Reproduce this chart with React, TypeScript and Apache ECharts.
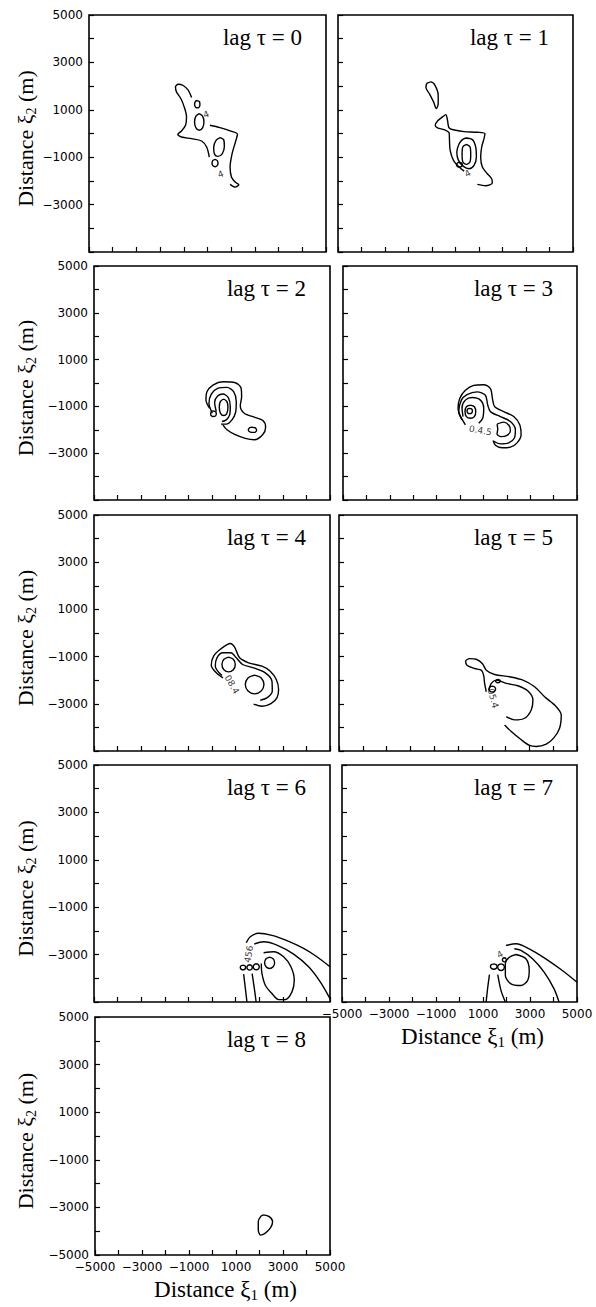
import React, { useEffect, useRef } from "react";
import * as echarts from "echarts";

// ---------- data (metres) ----------
const tickLabelValues = [-5000, -3000, -1000, 1000, 3000, 5000];
const lagLabels = ["lag τ = 0", "lag τ = 1", "lag τ = 2", "lag τ = 3", "lag τ = 4", "lag τ = 5", "lag τ = 6", "lag τ = 7", "lag τ = 8"];

const lag0 = [
  [[-673, 1517], [-815, 1827], [-1027, 2025], [-1239, 2081], [-1352, 1968], [-1309, 1757], [-1126, 1475], [-984, 1123], [-885, 700], [-927, 347], [-1097, 107], [-1253, -34], [-1097, -147], [-673, -217], [-249, -316], [-37, -570], [76, -993]],
  [[105, 347], [529, 248], [953, 107], [1264, -34], [1179, -358], [1038, -852], [953, -1416], [1010, -1839], [1165, -2050], [1321, -2163], [1165, -2262], [953, -2149]],
  [[-433, 1390], [-334, 1333], [-320, 1207], [-391, 1080], [-504, 1108], [-546, 1235], [-504, 1362], [-433, 1390]],
  [[-348, 840], [-208, 737], [-150, 488], [-208, 239], [-348, 136], [-488, 239], [-546, 488], [-488, 737], [-348, 840]],
  [[540, -175], [680, -260], [712, -540], [620, -860], [430, -965], [300, -880], [260, -600], [360, -290], [540, -175]],
  [[317, -1091], [407, -1136], [444, -1246], [407, -1356], [317, -1401], [227, -1356], [190, -1246], [227, -1136], [317, -1091]],
];

const lag1 = [
  [[-1230, 2110], [-1046, 2180], [-877, 2039], [-736, 1616], [-736, 1264], [-820, 1052], [-933, 1334], [-1117, 1687], [-1258, 1940], [-1230, 2110]],
  [[930, -2149], [1283, -2205], [1566, -2092], [1538, -1909], [1354, -1698], [1142, -1416], [1072, -993], [1114, -570], [1213, -217], [1255, -5], [930, 51], [366, 79], [13, 136], [-270, 234], [-340, 559], [-411, 798], [-552, 700], [-764, 530], [-863, 347], [-764, 234], [-482, 164], [-270, 23], [-256, -288], [-227, -711], [-86, -1134], [154, -1416], [366, -1585]],
  [[436, -189], [719, -259], [860, -570], [888, -993], [789, -1345], [577, -1486], [337, -1387], [126, -1134], [55, -781], [154, -429], [295, -259], [436, -189]],
  [[464, -457], [620, -570], [648, -880], [620, -1190], [464, -1303], [308, -1190], [280, -880], [308, -570], [464, -457]],
  [[168, -1218], [258, -1247], [295, -1317], [258, -1387], [168, -1416], [78, -1387], [41, -1317], [78, -1247], [168, -1218]],
];

const lag2 = [
  [[-100, -1080], [-256, -727], [-213, -373], [41, -90], [464, 51], [987, 9], [1227, -204], [1255, -585], [1199, -967], [1368, -1292], [1792, -1462], [2159, -1603], [2272, -1886], [2145, -2211], [1792, -2424], [1410, -2367], [987, -2211], [634, -1999], [464, -1787]],
  [[13, -1292], [-129, -868], [-30, -472], [239, -232], [634, -189], [916, -373], [1029, -797], [1001, -1250], [846, -1575], [606, -1759], [380, -1759]],
  [[182, -1222], [111, -826], [239, -557], [464, -472], [690, -628], [775, -1010], [747, -1363], [606, -1575], [422, -1646]],
  [[493, -684], [634, -797], [676, -1052], [620, -1321], [493, -1391], [366, -1306], [309, -1052], [351, -797], [493, -684]],
  [[1693, -1886], [1848, -1929], [1891, -2028], [1792, -2112], [1622, -2098], [1538, -2013], [1594, -1914], [1693, -1886]],
  [[69, -1193], [182, -1278], [154, -1405], [27, -1434], [-58, -1335], [-30, -1222], [69, -1193]],
];

const lag3 = [
  [[230, -1786], [-84, -1084], [-12, -662], [230, -311], [586, -100], [1014, -72], [1299, -241], [1398, -732], [1484, -1013], [1869, -1224], [2296, -1435], [2553, -1786], [2610, -2208], [2439, -2559], [2154, -2742], [1797, -2770], [1512, -2657], [1413, -2460]],
  [[87, -1575], [-55, -1224], [59, -732], [301, -494], [729, -381], [1085, -522], [1185, -943], [1299, -1224], [1726, -1435], [2154, -1646], [2367, -1997], [2325, -2348], [2082, -2559], [1726, -2601], [1441, -2489]],
  [[130, -1435], [87, -1056], [230, -732], [515, -620], [871, -732], [1014, -1084], [971, -1505], [800, -1716]],
  [[444, -943], [615, -1013], [672, -1224], [615, -1435], [444, -1505], [273, -1435], [216, -1224], [273, -1013], [444, -943]],
  [[415, -1084], [501, -1112], [529, -1196], [501, -1280], [415, -1308], [330, -1280], [301, -1196], [330, -1112], [415, -1084]],
  [[1584, -1758], [1869, -1674], [2097, -1815], [2154, -2039], [2011, -2236], [1755, -2292], [1584, -2180], [1612, -1969], [1584, -1758]],
];

const lag4 = [
  [[464, -1900], [182, -1688], [-30, -1363], [69, -981], [380, -670], [775, -444], [959, -599], [1170, -1052], [1552, -1264], [2116, -1405], [2469, -1618], [2724, -1971], [2822, -2395], [2752, -2749], [2498, -2989], [2116, -3102], [1763, -3017]],
  [[422, -1801], [140, -1405], [210, -1052], [464, -840], [803, -840], [1029, -1052], [1298, -1335], [1763, -1476], [2258, -1688], [2540, -2042], [2554, -2466], [2328, -2749], [2046, -2848]],
  [[704, -1024], [903, -1115], [986, -1335], [903, -1555], [704, -1646], [505, -1555], [422, -1335], [505, -1115], [704, -1024]],
  [[1806, -1788], [2085, -1904], [2201, -2183], [2085, -2462], [1806, -2578], [1527, -2462], [1411, -2183], [1527, -1904], [1806, -1788]],
];

const lag5 = [
  [[1188, -2489], [1118, -2137], [1076, -1786], [978, -1575], [698, -1505], [376, -1365], [320, -1196], [488, -1084], [768, -1112], [1020, -1294], [1188, -1575], [1538, -1758], [2168, -1856], [2728, -1997], [3218, -2278], [3638, -2699], [4128, -3121], [4338, -3472], [4268, -4034], [4016, -4456], [3708, -4709], [3288, -4807], [3008, -4765], [2658, -4526], [2238, -4175], [1958, -3894]],
  [[2028, -3542], [2378, -3683], [2798, -3613], [3078, -3261], [3148, -2840], [2938, -2461], [2518, -2236], [2028, -2137], [1608, -1997], [1398, -2137], [1300, -2418]],
  [[1678, -1969], [1747, -1990], [1776, -2039], [1747, -2088], [1678, -2109], [1609, -2088], [1580, -2039], [1609, -1990], [1678, -1969]],
  [[1440, -2250], [1539, -2287], [1580, -2376], [1539, -2465], [1440, -2502], [1341, -2465], [1300, -2376], [1341, -2287], [1440, -2250]],
];

const lag6 = [
  [[1453, -2498], [1622, -2244], [1975, -2102], [2540, -2187], [3175, -2413], [3881, -2738], [4446, -3091], [5000, -3514]],
  [[1792, -2554], [2187, -2455], [2752, -2597], [3458, -2978], [4093, -3514], [4587, -4150], [5000, -4856]],
  [[2187, -2921], [2611, -2879], [3034, -3091], [3345, -3514], [3486, -4079], [3387, -4573], [3105, -4898], [2822, -4898], [2540, -4644], [2258, -4291], [2116, -3797], [2088, -3373]],
  [[1340, -3825], [1410, -4400], [1481, -5000]],
  [[1700, -3800], [1790, -4400], [1870, -5000]],
  [[1312, -3444], [1392, -3473], [1425, -3543], [1392, -3613], [1312, -3642], [1232, -3613], [1199, -3543], [1232, -3473], [1312, -3444]],
  [[1594, -3430], [1674, -3463], [1707, -3543], [1674, -3623], [1594, -3656], [1514, -3623], [1481, -3543], [1514, -3463], [1594, -3430]],
  [[1876, -3387], [1966, -3424], [2003, -3514], [1966, -3604], [1876, -3641], [1786, -3604], [1749, -3514], [1786, -3424], [1876, -3387]],
  [[2441, -3105], [2591, -3175], [2653, -3345], [2591, -3515], [2441, -3585], [2291, -3515], [2229, -3345], [2291, -3175], [2441, -3105]],
];

const lag7 = [
  [[1980, -2614], [2403, -2544], [2967, -2755], [3672, -3178], [4377, -3672], [5000, -4165]],
  [[2332, -2755], [2614, -2826], [3108, -3178], [3601, -3742], [4024, -4447], [4236, -5000]],
  [[2403, -2995], [2826, -3178], [2967, -3672], [2896, -4095], [2614, -4306], [2191, -4236], [1951, -3883], [1951, -3390], [2121, -3108], [2403, -2995]],
  [[1275, -3841], [1200, -4400], [1134, -5000]],
  [[1627, -3841], [1768, -4518], [1951, -5000]],
  [[1458, -3389], [1558, -3422], [1599, -3502], [1558, -3582], [1458, -3615], [1358, -3582], [1317, -3502], [1358, -3422], [1458, -3389]],
  [[1768, -3390], [1868, -3431], [1909, -3531], [1868, -3631], [1768, -3672], [1668, -3631], [1627, -3531], [1668, -3431], [1768, -3390]],
  [[1909, -3135], [1969, -3160], [1994, -3220], [1969, -3280], [1909, -3305], [1849, -3280], [1824, -3220], [1849, -3160], [1909, -3135]],
];

const lag8 = [
  [[2161, -3314], [2416, -3385], [2558, -3597], [2473, -3852], [2232, -4092], [2047, -4163], [1948, -3951], [1948, -3597], [2047, -3385], [2161, -3314]],
];

const panelsData = [lag0, lag1, lag2, lag3, lag4, lag5, lag6, lag7, lag8];

// contour level labels: [panel, x, y, text, rotation]
const contourLabels: [number, number, number, string, number][] = [
  [0, -60, 800, "4", 20],
  [0, 560, -1720, "4", 20],
  [1, 520, -1690, "4", 30],
  [3, 870, -2030, "0.4.5", -10],
  [4, 846, -2183, "08.4", -60],
  [5, 1470, -2770, "05.4", -75],
  [6, 1560, -2980, "456", 80],
  [7, 1726, -2995, "4", 30],
];

// ---------- layout (pixels) ----------
const layout = [
  { left: 89, top: 15, width: 237, height: 237 },
  { left: 338, top: 15, width: 235, height: 237 },
  { left: 94, top: 266, width: 236, height: 234 },
  { left: 343, top: 266, width: 234, height: 234 },
  { left: 94, top: 515, width: 236, height: 236 },
  { left: 339, top: 515, width: 238, height: 236 },
  { left: 94, top: 765, width: 236, height: 237 },
  { left: 342, top: 765, width: 235, height: 237 },
  { left: 95, top: 1017, width: 235, height: 238 },
];

const fmt = (v: number) => (v < 0 ? "\u2212" + Math.abs(v) : String(v));
const isLabelled = (v: number) => tickLabelValues.indexOf(v) >= 0;

const nameRich = (size: number) => ({
  xi: { fontFamily: "Liberation Serif", fontSize: size, color: "#000", lineHeight: 26 },
  sub: { fontFamily: "Liberation Serif", fontSize: Math.round(size * 0.64), color: "#000", lineHeight: 14, verticalAlign: "bottom" },
});

export default function App() {
  const ref = useRef<HTMLDivElement>(null);
  useEffect(() => {
    if (!ref.current) return;
    const chart = echarts.init(ref.current, undefined, { renderer: "svg" });
    const grids: any[] = [];
    const xAxes: any[] = [];
    const yAxes: any[] = [];
    const titles: any[] = [];
    const series: any[] = [];
    panelsData.forEach((contours, i) => {
      const L = layout[i];
      const leftCol = i % 2 === 0;
      const showX = i === 7 || i === 8;
      grids.push({ left: L.left, top: L.top, width: L.width, height: L.height, show: true, borderColor: "#000", borderWidth: 1.6, backgroundColor: "transparent" });
      xAxes.push({
        type: "value", gridIndex: i, min: -5000, max: 5000, interval: 1000,
        splitLine: { show: false }, axisLine: { show: false, onZero: false },
        axisTick: { show: true, inside: true, length: 5, lineStyle: { color: "#000", width: 1.2 } },
        axisLabel: {
          show: showX, margin: 6, color: "#000", fontFamily: "DejaVu Sans", fontSize: 12,
          formatter: (v: number) => (isLabelled(v) ? fmt(v) : ""),
        },
        name: showX ? "Distance {xi|ξ}{sub|1} (m)" : "",
        nameLocation: "middle", nameGap: 21,
        nameTextStyle: { fontFamily: "Liberation Serif", fontSize: 23, color: "#000", lineHeight: 26, padding: [0, 0, 0, 26], rich: nameRich(23) },
      });
      yAxes.push({
        type: "value", gridIndex: i, min: -5000, max: 5000, interval: 1000,
        splitLine: { show: false }, axisLine: { show: false, onZero: false },
        axisTick: { show: true, inside: true, length: 5, lineStyle: { color: "#000", width: 1.2 } },
        axisLabel: {
          show: leftCol, margin: 6, color: "#000", fontFamily: "DejaVu Sans", fontSize: 12,
          formatter: (v: number) => (isLabelled(v) && (v !== -5000 || i === 8) ? fmt(v) : ""),
        },
        name: leftCol ? "Distance {xi|ξ}{sub|2} (m)" : "",
        nameLocation: "middle", nameGap: L.left - 38,
        nameTextStyle: { fontFamily: "Liberation Serif", fontSize: 22, color: "#000", lineHeight: 26, padding: [0, 10, 0, 0], rich: nameRich(22) },
      });
      titles.push({
        text: lagLabels[i], right: 596 - (L.left + L.width) + 24, top: L.top + 11, padding: 0,
        textStyle: { fontFamily: "Liberation Serif", fontSize: 23, fontWeight: "normal", color: "#000" },
      });
      contours.forEach((c) => {
        series.push({
          type: "line", xAxisIndex: i, yAxisIndex: i, data: c, showSymbol: false, symbol: "none",
          smooth: 0.3, silent: true, lineStyle: { color: "#000", width: 1.4 },
        });
      });
      const labs = contourLabels.filter((l) => l[0] === i);
      if (labs.length) {
        series.push({
          type: "scatter", xAxisIndex: i, yAxisIndex: i, symbolSize: 0, silent: true,
          data: labs.map((l) => ({ value: [l[1], l[2]], name: l[3], label: { rotate: l[4] } })),
          label: { show: true, position: "inside", formatter: "{b}", fontFamily: "DejaVu Sans", fontSize: 9, color: "#000" },
        });
      }
    });
    chart.setOption({
      animation: false,
      backgroundColor: "#fff",
      title: titles,
      grid: grids,
      xAxis: xAxes,
      yAxis: yAxes,
      series,
    });
    return () => chart.dispose();
  }, []);
  return <div ref={ref} style={{ position: "absolute", left: 0, top: 0, width: 596, height: 1307 }} />;
}
